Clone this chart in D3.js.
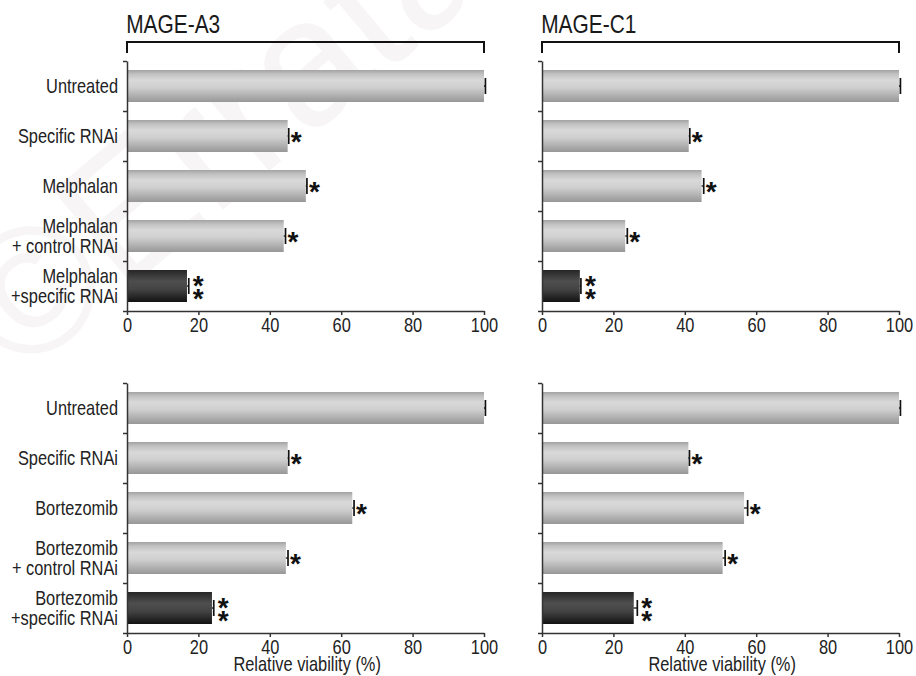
<!DOCTYPE html>
<html><head><meta charset="utf-8">
<script src="https://cdn.jsdelivr.net/npm/d3@7"></script>
<style>
html,body{margin:0;padding:0;background:#fff;}
svg{display:block;}
</style></head>
<body>
<svg id="chart" width="916" height="676"></svg>
<script>
const categoriesMelphalan = ["Untreated", "Specific RNAi", "Melphalan", "Melphalan|+ control RNAi", "Melphalan|+specific RNAi"];
const categoriesBortezomib = ["Untreated", "Specific RNAi", "Bortezomib", "Bortezomib|+ control RNAi", "Bortezomib|+specific RNAi"];
const mageA3Melphalan = [100, 45.0, 50.1, 43.9, 16.8];
const mageA3MelphalanErr = [0.4, 0.3, 0.3, 0.5, 0.5];
const mageC1Melphalan = [100, 41.1, 44.7, 23.3, 10.6];
const mageC1MelphalanErr = [0.4, 0.3, 0.6, 0.6, 0.3];
const mageA3Bortezomib = [100, 45.0, 63.1, 44.5, 23.8];
const mageA3BortezomibErr = [0.4, 0.3, 0.5, 0.6, 0.5];
const mageC1Bortezomib = [100, 41.0, 56.6, 50.6, 25.7];
const mageC1BortezomibErr = [0.4, 0.3, 1.0, 0.7, 1.0];
const significance = ["", "*", "*", "*", "**"];
const xTicks = [0, 20, 40, 60, 80, 100];
const panelTitles = ["MAGE-A3", "MAGE-C1"];
const xAxisTitle = "Relative viability (%)";

function hasFont(name) {
  const c = document.createElement("canvas").getContext("2d");
  const s = "MAGE-A3 Untreated Relative 0123456789";
  c.font = "40px monospace"; const w1 = c.measureText(s).width;
  c.font = "40px '" + name + "', monospace"; const w2 = c.measureText(s).width;
  return Math.abs(w1 - w2) > 0.5;
}
const narrow = hasFont("Liberation Sans Narrow");
const FONT = narrow ? "'Liberation Sans Narrow', sans-serif" : "'Liberation Sans', Arial, sans-serif";
const SX = narrow ? 1 : 0.82;
const FS = 20;

const svg = d3.select("#chart");
const defs = svg.append("defs");
const gl = defs.append("linearGradient").attr("id", "gLight").attr("x1", 0).attr("y1", 0).attr("x2", 0).attr("y2", 1);
[["0%", "#a2a2a2"], ["12%", "#c0c0c0"], ["32%", "#d9d9d9"], ["55%", "#cfcfcf"], ["80%", "#b0b0b0"], ["100%", "#979797"]]
  .forEach(([o, c]) => gl.append("stop").attr("offset", o).attr("stop-color", c));
const gd = defs.append("linearGradient").attr("id", "gDark").attr("x1", 0).attr("y1", 0).attr("x2", 0).attr("y2", 1);
[["0%", "#262626"], ["35%", "#4e4e4e"], ["60%", "#444444"], ["100%", "#121212"]]
  .forEach(([o, c]) => gd.append("stop").attr("offset", o).attr("stop-color", c));

// very faint watermark
svg.append("text")
  .attr("transform", "translate(20,380) rotate(-40)")
  .attr("font-family", "'Liberation Sans', Arial, sans-serif")
  .attr("font-size", 180)
  .attr("fill", "#f7f5f5")
  .text("\u00A9Errata");

function sxText(sel, anchorX) {
  if (SX !== 1) sel.attr("transform", `translate(${anchorX},0) scale(${SX},1) translate(${-anchorX},0)`);
  return sel;
}

function panel(cfg) {
  const { left, right, top, bottom, cats, values, errs, showLabels, title, showXTitle } = cfg;
  const g = svg.append("g");
  const x = d3.scaleLinear().domain([0, 100]).range([left, right]);
  const y = d3.scaleBand().domain(d3.range(cats.length)).range([top, bottom]).paddingInner(0.36).paddingOuter(0.18);
  const yb = d3.scaleLinear().domain([0, cats.length]).range([top, bottom]);

  g.selectAll("rect.bar").data(values).join("rect")
    .attr("x", x(0)).attr("y", (d, i) => y(i))
    .attr("width", d => x(d) - x(0)).attr("height", y.bandwidth())
    .attr("fill", (d, i) => i === values.length - 1 ? "url(#gDark)" : "url(#gLight)");

  values.forEach((v, i) => {
    const cy = y(i) + y.bandwidth() / 2;
    const xe = x(v + errs[i]);
    g.append("line").attr("x1", x(v)).attr("x2", xe).attr("y1", cy).attr("y2", cy)
      .attr("stroke", "#111").attr("stroke-width", 1.3);
    g.append("line").attr("x1", xe).attr("x2", xe).attr("y1", cy - 8).attr("y2", cy + 8)
      .attr("stroke", "#111").attr("stroke-width", 1.7);
    const s = significance[i];
    if (s === "*") {
      g.append("text").attr("x", xe + 2).attr("y", cy + 15)
        .attr("font-family", "'Liberation Sans', Arial, sans-serif").attr("font-size", 28).attr("font-weight", "bold")
        .attr("fill", "#111").text("*");
    } else if (s === "**") {
      const t = g.append("text").attr("font-family", "'Liberation Sans', Arial, sans-serif")
        .attr("font-size", 28).attr("font-weight", "bold").attr("fill", "#111");
      t.append("tspan").attr("x", xe + 4).attr("y", cy + 9).text("*");
      t.append("tspan").attr("x", xe + 4).attr("y", cy + 22).text("*");
    }
  });

  const yAxis = d3.axisLeft(yb).tickValues(d3.range(cats.length + 1)).tickSize(4).tickSizeOuter(0).tickFormat("");
  const ya = g.append("g").attr("transform", `translate(${left},0)`).call(yAxis);
  ya.selectAll("path,line").attr("stroke", "#333").attr("stroke-width", 1.5);

  if (showLabels) {
    cats.forEach((c, i) => {
      const lines = c.split("|");
      const cy = y(i) + y.bandwidth() / 2;
      const lh = 20.5;
      const t = g.append("text").attr("text-anchor", "end").attr("font-family", FONT)
        .attr("font-size", FS).attr("fill", "#222");
      lines.forEach((ln, k) => {
        const yy = cy + (k - (lines.length - 1) / 2) * lh + 7;
        t.append("tspan").attr("x", left - 9).attr("y", yy).text(ln);
      });
      sxText(t, left - 9);
    });
  }

  const xa = g.append("g").attr("transform", `translate(0,${bottom})`)
    .call(d3.axisBottom(x).tickValues(xTicks).tickSize(4).tickSizeOuter(0).tickPadding(3));
  xa.selectAll("path,line").attr("stroke", "#333").attr("stroke-width", 1.5);
  xa.selectAll("text").attr("font-family", FONT).attr("font-size", FS).attr("fill", "#222")
    .each(function () { const t = d3.select(this); if (SX !== 1) t.attr("transform", `scale(${SX},1)`); });

  if (showXTitle) {
    const t = g.append("text").attr("x", (left + right) / 2 + 2).attr("y", bottom + 38)
      .attr("text-anchor", "middle").attr("font-family", FONT).attr("font-size", FS).attr("fill", "#222")
      .text(xAxisTitle);
    sxText(t, (left + right) / 2);
  }

  if (title) {
    const t = g.append("text").attr("x", left - 1).attr("y", 33)
      .attr("font-family", FONT).attr("font-size", 25.5).attr("fill", "#1a1a1a").text(title);
    sxText(t, left);
    g.append("path")
      .attr("d", `M${x(0)},53 V42 H${x(100)} V53`)
      .attr("fill", "none").attr("stroke", "#111").attr("stroke-width", 2);
  }
}

panel({ left: 127, right: 484, top: 61, bottom: 311, cats: categoriesMelphalan, values: mageA3Melphalan, errs: mageA3MelphalanErr, showLabels: true, title: panelTitles[0], showXTitle: false });
panel({ left: 542, right: 899, top: 61, bottom: 311, cats: categoriesMelphalan, values: mageC1Melphalan, errs: mageC1MelphalanErr, showLabels: false, title: panelTitles[1], showXTitle: false });
panel({ left: 127, right: 484, top: 383, bottom: 633, cats: categoriesBortezomib, values: mageA3Bortezomib, errs: mageA3BortezomibErr, showLabels: true, title: null, showXTitle: true });
panel({ left: 542, right: 899, top: 383, bottom: 633, cats: categoriesBortezomib, values: mageC1Bortezomib, errs: mageC1BortezomibErr, showLabels: false, title: null, showXTitle: true });
</script>
</body></html>
